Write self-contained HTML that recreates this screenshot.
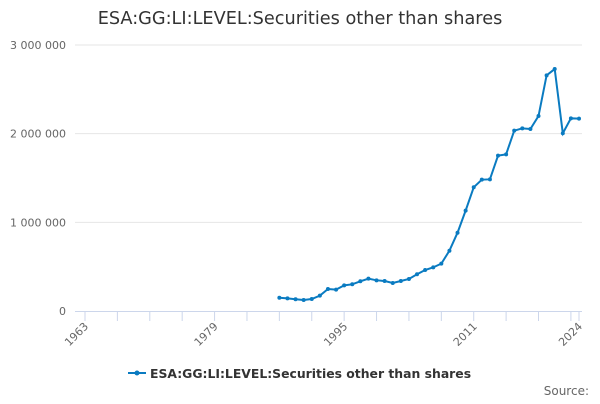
<!DOCTYPE html>
<html><head><meta charset="utf-8"><style>
body{margin:0;background:#fff;font-family:"DejaVu Sans","Liberation Sans",sans-serif}
</style></head><body>
<svg id="chart" width="600" height="400" xmlns="http://www.w3.org/2000/svg">
<text x="300" y="24" text-anchor="middle" font-size="17.7" fill="#333">ESA:GG:LI:LEVEL:Securities other than shares</text>
<g id="grid"></g><g id="xaxis"></g><g id="series"></g>
<g>
<line x1="128" y1="373" x2="146" y2="373" stroke="#0a7bc1" stroke-width="2"/>
<circle cx="137" cy="373" r="2.5" fill="#0a7bc1"/>
<text x="150" y="378" font-size="12.4" font-weight="bold" fill="#333">ESA:GG:LI:LEVEL:Securities other than shares</text>
</g>
<text x="589" y="395" text-anchor="end" font-size="12" fill="#666">Source:</text>
</svg>
<script>
const years=[1987,1988,1989,1990,1991,1992,1993,1994,1995,1996,1997,1998,1999,2000,2001,2002,2003,2004,2005,2006,2007,2008,2009,2010,2011,2012,2013,2014,2015,2016,2017,2018,2019,2020,2021,2022,2023,2024];
const values=[150000,143000,132000,124000,135000,173000,248000,241000,289000,301000,335000,365000,346000,338000,316000,338000,361000,414000,462000,492000,534000,680000,883000,1132000,1395000,1481000,1485000,1752000,1767000,2034000,2060000,2053000,2199000,2658000,2729000,2004000,2173000,2169000];
const yTicks=[0,1000000,2000000,3000000];
const yTickLabels=["0","1 000 000","2 000 000","3 000 000"];
const xTickLabels=[1963,1979,1995,2011,2024];
const NS="http://www.w3.org/2000/svg";
const x=v=>85+(v-1963)*(579-85)/61;
const y=v=>311-v*(311-45)/3000000;
function mk(t,a,p){const e=document.createElementNS(NS,t);for(const k in a)e.setAttribute(k,a[k]);p.appendChild(e);return e;}
const grid=document.getElementById('grid'),xa=document.getElementById('xaxis'),se=document.getElementById('series');
yTicks.forEach((t,i)=>{
 if(i>0){const l=mk('line',{x1:75,x2:582,y1:y(t),y2:y(t),stroke:'#e6e6e6'},grid);
 
 }
 const tx=mk('text',{x:66,y:y(t)+4,'text-anchor':'end','font-size':11,fill:'#666'},grid);
 tx.textContent=yTickLabels[i];
 
 
});
const ax=mk('line',{x1:75,x2:582,y1:311.5,y2:311.5,stroke:'#ccd6eb'},xa);


for(let yr=1963;yr<=2024;yr+=4){const t=mk('line',{x1:x(yr),x2:x(yr),y1:311,y2:321,stroke:'#ccd6eb'},xa);
 
 }
const tl=mk('line',{x1:x(2024),x2:x(2024),y1:311,y2:321,stroke:'#ccd6eb'},xa);


xTickLabels.forEach(yr=>{const t=mk('text',{x:0,y:0,'text-anchor':'end','font-size':11,fill:'#666',transform:`translate(${x(yr)+4},${327}) rotate(-45)`},xa);
 t.textContent=yr;
 
 });
const pts=years.map((yr,i)=>x(yr)+','+y(values[i])).join(' ');
const pl=mk('polyline',{points:pts,fill:'none',stroke:'#0a7bc1','stroke-width':2},se);


years.forEach((yr,i)=>{const c=mk('circle',{cx:x(yr),cy:y(values[i]),r:2,fill:'#0a7bc1'},se);
 
 });
</script>
</body></html>
